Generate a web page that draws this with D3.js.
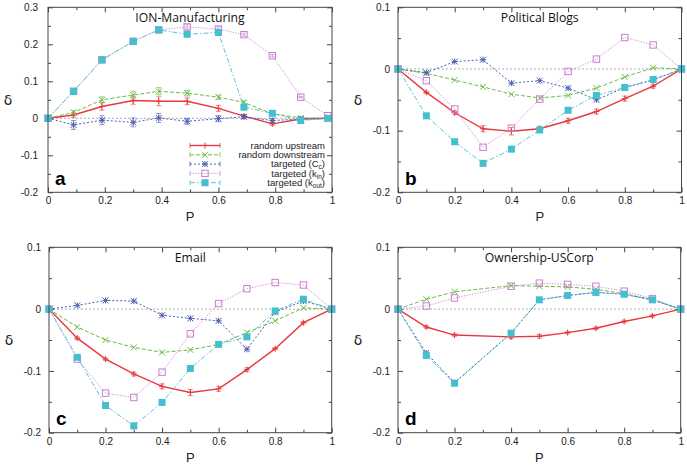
<!DOCTYPE html>
<html><head><meta charset="utf-8">
<script src="https://cdn.jsdelivr.net/npm/d3@7"></script>
<style>body{margin:0;background:#fff}svg{display:block}</style>
</head><body>
<svg id="chart" width="687" height="465"></svg>
<script>
// ---------- data ----------
const pGrid = [0, 0.1, 0.2, 0.3, 0.4, 0.5, 0.6, 0.7, 0.8, 0.9, 1];
const pION  = [0, 0.09, 0.19, 0.3, 0.39, 0.49, 0.6, 0.69, 0.79, 0.89, 0.985];

const seriesNames = ["random upstream", "random downstream", "targeted (C", "targeted (k", "targeted (k"];
const seriesSubs  = ["", "", "c", "in", "out"];

// Panel a: ION-Manufacturing
const ionUp      = [0, 0.009, 0.032, 0.048, 0.046, 0.046, 0.027, 0.006, -0.015, -0.002, 0];
const ionUpErr   = [0, 0.006, 0.010, 0.010, 0.012, 0.009, 0.008, 0.004, 0.004, 0.002, 0];
const ionDown    = [0, 0.016, 0.050, 0.063, 0.073, 0.068, 0.057, 0.043, 0.012, 0.001, 0];
const ionDownErr = [0, 0.005, 0.008, 0.010, 0.010, 0.008, 0.006, 0.004, 0.003, 0.002, 0];
const ionCc      = [0, -0.018, -0.005, -0.011, 0.001, -0.008, -0.001, 0.004, -0.006, -0.002, 0];
const ionCcErr   = [0, 0.012, 0.012, 0.012, 0.012, 0.008, 0.008, 0.005, 0.005, 0.003, 0];
const ionKin     = [0, 0.073, 0.158, 0.208, 0.239, 0.247, 0.241, 0.226, 0.169, 0.057, 0.007];
const ionKout    = [0, 0.073, 0.158, 0.208, 0.239, 0.227, 0.232, 0.030, 0.0135, -0.006, 0];
const ionKErr    = [0, 0.005, 0.006, 0.006, 0.006, 0.006, 0.006, 0.004, 0.003, 0.002, 0];

// Panel b: Political Blogs
const blogUp     = [0, -0.038, -0.071, -0.097, -0.101, -0.097, -0.084, -0.069, -0.048, -0.028, 0];
const blogUpErr  = [0, 0.002, 0.003, 0.005, 0.006, 0.004, 0.004, 0.004, 0.004, 0.003, 0];
const blogDown   = [0, -0.007, -0.018, -0.029, -0.041, -0.047, -0.043, -0.031, -0.013, 0.002, 0];
const blogCc     = [0, -0.006, 0.012, 0.015, -0.023, -0.019, -0.031, -0.050, -0.030, -0.018, 0];
const blogKin    = [0, -0.019, -0.065, -0.127, -0.096, -0.049, -0.004, 0.016, 0.051, 0.039, 0];
const blogKout   = [0, -0.076, -0.118, -0.153, -0.130, -0.099, -0.067, -0.043, -0.030, -0.017, 0];

// Panel c: Email
const emailUp    = [0, -0.047, -0.081, -0.105, -0.125, -0.135, -0.129, -0.098, -0.064, -0.022, 0];
const emailUpErr = [0, 0.002, 0.002, 0.003, 0.004, 0.005, 0.004, 0.003, 0.002, 0.002, 0];
const emailDown  = [0, -0.029, -0.050, -0.062, -0.070, -0.066, -0.057, -0.038, -0.019, 0.002, 0];
const emailCc    = [0, 0.006, 0.014, 0.013, -0.010, -0.015, -0.019, -0.065, -0.005, 0.013, 0];
const emailKin   = [0, -0.081, -0.136, -0.143, -0.102, -0.040, 0.009, 0.033, 0.043, 0.039, 0];
const emailKout  = [0, -0.078, -0.156, -0.189, -0.151, -0.096, -0.057, -0.045, -0.003, 0.016, 0];

// Panel d: Ownership-USCorp (no point at P = 0.3)
const corpUp     = [0, -0.029, -0.042, null, -0.045, -0.044, -0.038, -0.031, -0.020, -0.011, 0];
const corpUpErr  = [0, 0.002, 0.002, 0, 0.003, 0.003, 0.002, 0.002, 0.002, 0.002, 0];
const corpDown   = [0, 0.016, 0.028, null, 0.038, 0.037, 0.036, 0.032, 0.025, 0.015, 0];
const corpCc     = [0, -0.071, -0.119, null, -0.039, 0.015, 0.022, 0.027, 0.024, 0.015, 0];
const corpKin    = [0, 0.005, 0.018, null, 0.037, 0.042, 0.040, 0.037, 0.029, 0.017, 0];
const corpKout   = [0, -0.075, -0.120, null, -0.039, 0.015, 0.022, 0.027, 0.024, 0.015, 0];

const xTickLabels = [0, 0.2, 0.4, 0.6, 0.8, 1];
const xMinorTicks = [0.1, 0.3, 0.5, 0.7, 0.9];
const yTicksA = [-0.2, -0.1, 0, 0.1, 0.2, 0.3];
const yMinorA = [-0.15, -0.05, 0.05, 0.15, 0.25];
const yTicksB = [-0.2, -0.1, 0, 0.1];
const yMinorB = [-0.15, -0.05, 0.05];

const titles  = ["ION-Manufacturing", "Political Blogs", "Email", "Ownership-USCorp"];
const letters = ["a", "b", "c", "d"];

// ---------- styles ----------
const colors  = ["#e8383d", "#6dbb45", "#4d5db0", "#c97fcf", "#44bfcf"];
const dashes  = [null, "4,2", "2,2", "1.2,1.5", "5,2,1.5,2"];
const widths  = [1.4, 1, 1, 0.9, 0.9];
const markers = ["plus", "cross", "star", "square", "fsquare"];

const panels = [
  {x0: 48, x1: 332, yTop: 7.3, yBot: 192.3, dom: [-0.2, 0.3], yt: yTicksA, ym: yMinorA, p: pION,
   s: [[ionUp, ionUpErr], [ionDown, ionDownErr], [ionCc, ionCcErr], [ionKin, ionKErr], [ionKout, ionKErr]],
   lblGap: 10, legend: true},
  {x0: 398, x1: 681.5, yTop: 7.3, yBot: 192.3, dom: [-0.2, 0.1], yt: yTicksB, ym: yMinorB, p: pGrid,
   s: [[blogUp, blogUpErr], [blogDown], [blogCc], [blogKin], [blogKout]], lblGap: 8},
  {x0: 49, x1: 331.7, yTop: 247.3, yBot: 432.7, dom: [-0.2, 0.1], yt: yTicksB, ym: yMinorB, p: pGrid,
   s: [[emailUp, emailUpErr], [emailDown], [emailCc], [emailKin], [emailKout]], lblGap: 8},
  {x0: 398, x1: 680.7, yTop: 247.3, yBot: 432.7, dom: [-0.2, 0.1], yt: yTicksB, ym: yMinorB, p: pGrid,
   s: [[corpUp, corpUpErr], [corpDown], [corpCc], [corpKin], [corpKout]], lblGap: 8}
];

const svg = d3.select("#chart");
const fmt = d => String(d);
const tickFont = "'Liberation Sans', Arial, sans-serif";

function drawMarker(g, type, x, y, color) {
  const s = 3;
  if (type === "plus") {
    g.append("path").attr("d", `M${x - s},${y}h${2 * s}M${x},${y - s}v${2 * s}`).attr("stroke", color).attr("stroke-width", 1).attr("fill", "none");
  } else if (type === "cross") {
    g.append("path").attr("d", `M${x - s},${y - s}L${x + s},${y + s}M${x - s},${y + s}L${x + s},${y - s}`).attr("stroke", color).attr("stroke-width", 1).attr("fill", "none");
  } else if (type === "star") {
    g.append("path").attr("d", `M${x - s},${y}h${2 * s}M${x},${y - s}v${2 * s}M${x - s},${y - s}L${x + s},${y + s}M${x - s},${y + s}L${x + s},${y - s}`).attr("stroke", color).attr("stroke-width", 1).attr("fill", "none");
  } else if (type === "square") {
    g.append("rect").attr("x", x - 3.2).attr("y", y - 3.2).attr("width", 6.4).attr("height", 6.4).attr("fill", "none").attr("stroke", color).attr("stroke-width", 1);
  } else {
    g.append("rect").attr("x", x - 3.5).attr("y", y - 3.5).attr("width", 7).attr("height", 7).attr("fill", color);
  }
}

panels.forEach((pn, i) => {
  const x = d3.scaleLinear().domain([0, 1]).range([pn.x0, pn.x1]);
  const y = d3.scaleLinear().domain(pn.dom).range([pn.yBot, pn.yTop]);
  const g = svg.append("g");

  // zero line
  g.append("line").attr("x1", pn.x0).attr("x2", pn.x1).attr("y1", y(0)).attr("y2", y(0))
    .attr("stroke", "#999").attr("stroke-width", 0.8).attr("stroke-dasharray", "2,2");

  // axes (ticks inward)
  const axStyle = sel => { sel.select(".domain").remove(); sel.selectAll("line").attr("stroke", "#444");
    sel.selectAll("text").attr("font-family", tickFont).attr("font-size", 10).attr("fill", "#222"); };
  g.append("g").attr("transform", `translate(0,${pn.yBot})`)
    .call(d3.axisBottom(x).tickValues(xTickLabels).tickFormat(fmt).tickSize(-5).tickPadding(5)).call(axStyle);
  g.append("g").attr("transform", `translate(0,${pn.yBot})`)
    .call(d3.axisBottom(x).tickValues(xMinorTicks).tickFormat("").tickSize(-3)).call(axStyle);
  g.append("g").attr("transform", `translate(0,${pn.yTop})`)
    .call(d3.axisTop(x).tickValues(xTickLabels).tickFormat("").tickSize(-5)).call(axStyle);
  g.append("g").attr("transform", `translate(0,${pn.yTop})`)
    .call(d3.axisTop(x).tickValues(xMinorTicks).tickFormat("").tickSize(-3)).call(axStyle);
  g.append("g").attr("transform", `translate(${pn.x0},0)`)
    .call(d3.axisLeft(y).tickValues(pn.yt).tickFormat(fmt).tickSize(-5).tickPadding(pn.lblGap)).call(axStyle);
  g.append("g").attr("transform", `translate(${pn.x0},0)`)
    .call(d3.axisLeft(y).tickValues(pn.ym).tickFormat("").tickSize(-3)).call(axStyle);
  g.append("g").attr("transform", `translate(${pn.x1},0)`)
    .call(d3.axisRight(y).tickValues(pn.yt).tickFormat("").tickSize(-5)).call(axStyle);
  g.append("g").attr("transform", `translate(${pn.x1},0)`)
    .call(d3.axisRight(y).tickValues(pn.ym).tickFormat("").tickSize(-3)).call(axStyle);

  // series
  pn.s.forEach((ser, k) => {
    const vals = ser[0], errs = ser[1];
    const pts = vals.map((v, j) => ({p: pn.p[j], v: v, e: errs ? errs[j] : 0})).filter(d => d.v !== null);
    const line = d3.line().x(d => x(d.p)).y(d => y(d.v));
    g.append("path").datum(pts).attr("d", line).attr("fill", "none")
      .attr("stroke", colors[k]).attr("stroke-width", widths[k])
      .attr("stroke-dasharray", dashes[k]);
    const mg = g.append("g");
    pts.forEach(d => {
      if (d.e > 0) {
        const cx = x(d.p), ya = y(d.v - d.e), yb = y(d.v + d.e);
        mg.append("path").attr("d", `M${cx},${ya}V${yb}M${cx - 2.5},${ya}h5M${cx - 2.5},${yb}h5`)
          .attr("stroke", colors[k]).attr("stroke-width", 0.8).attr("fill", "none").attr("opacity", 0.8);
      }
      drawMarker(mg, markers[k], x(d.p), y(d.v), colors[k]);
    });
  });

  // frame
  g.append("rect").attr("x", pn.x0).attr("y", pn.yTop).attr("width", pn.x1 - pn.x0).attr("height", pn.yBot - pn.yTop)
    .attr("fill", "none").attr("stroke", "#444").attr("stroke-width", 1);

  // titles & labels
  const mid = (pn.x0 + pn.x1) / 2;
  g.append("text").attr("x", mid).attr("y", pn.yTop + 14.5).attr("text-anchor", "middle")
    .attr("font-family", "'Open Sans', sans-serif").attr("font-size", 12.2).attr("fill", "#111").text(titles[i]);
  g.append("text").attr("x", pn.x0 + 7).attr("y", pn.yBot - 7.5)
    .attr("font-family", "'Liberation Sans', Arial, sans-serif").attr("font-weight", "bold").attr("font-size", 19).attr("fill", "#000").text(letters[i]);
  g.append("text").attr("x", mid).attr("y", pn.yBot + 29).attr("text-anchor", "middle")
    .attr("font-family", tickFont).attr("font-size", 13).attr("fill", "#222").text("P");
  g.append("text").attr("x", pn.x0 - 40).attr("y", (pn.yTop + pn.yBot) / 2 + 5).attr("text-anchor", "middle")
    .attr("font-family", "'DejaVu Sans', sans-serif").attr("font-size", 14).attr("fill", "#222").text("δ");

  // legend
  if (pn.legend) {
    const lx0 = 190, lx1 = 220, tx = 325;
    const rows = [145.5, 154.8, 164.1, 173.4, 182.7];
    rows.forEach((ry, k) => {
      g.append("line").attr("x1", lx0).attr("x2", lx1).attr("y1", ry).attr("y2", ry)
        .attr("stroke", colors[k]).attr("stroke-width", widths[k]).attr("stroke-dasharray", dashes[k]);
      g.append("path").attr("d", `M${lx0},${ry - 2.5}v5M${lx1},${ry - 2.5}v5`).attr("stroke", colors[k]).attr("stroke-width", 0.8);
      drawMarker(g, markers[k], (lx0 + lx1) / 2, ry, colors[k]);
      const t = g.append("text").attr("x", tx).attr("y", ry + 3.3).attr("text-anchor", "end")
        .attr("font-family", tickFont).attr("font-size", 9.5).attr("fill", "#222");
      t.append("tspan").text(seriesNames[k]);
      if (seriesSubs[k]) {
        t.append("tspan").attr("font-size", 6.5).attr("dy", 2).text(seriesSubs[k]);
        t.append("tspan").attr("dy", -2).text(")");
      }
    });
  }
});
</script>
</body></html>
